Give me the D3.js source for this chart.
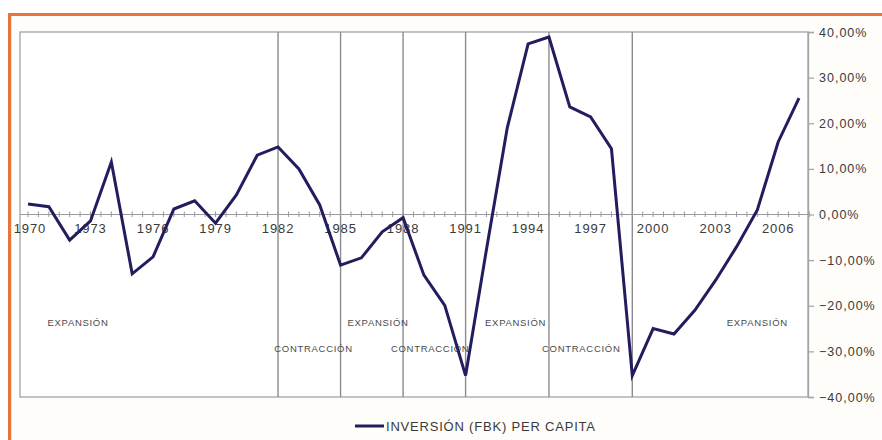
<!DOCTYPE html>
<html>
<head>
<meta charset="utf-8">
<script src="https://cdn.jsdelivr.net/npm/d3@7/dist/d3.min.js"></script>
<style>
  html, body { margin: 0; padding: 0; background: #ffffff; }
  svg { display: block; }
  text { font-family: "Liberation Sans", Arial, sans-serif; }
</style>
</head>
<body>
<svg id="chart" width="882" height="440"></svg>
<script>
// ---- data ----
const years = d3.range(1970, 2008);
const inversionFBK = [
  2.3, 1.7, -5.6, -1.4, 11.5, -13.0, -9.3, 1.2, 3.0, -1.9,
  4.3, 13.0, 14.8, 10.0, 2.1, -11.1, -9.5, -3.8, -0.7, -13.3,
  -19.9, -35.3, -7.7, 19.0, 37.4, 38.9, 23.6, 21.4, 14.4, -35.3,
  -25.0, -26.2, -21.0, -14.4, -7.1, 1.0, 15.9, 25.5
];
const seriesName = "INVERSIÓN (FBK) PER CAPITA";
const xTickLabels = [1970, 1973, 1976, 1979, 1982, 1985, 1988, 1991, 1994, 1997, 2000, 2003, 2006];
const yTicks = [40, 30, 20, 10, 0, -10, -20, -30, -40];
const cycleBreaks = [1982, 1985, 1988, 1991, 1995, 1999];
const phaseLabels = ["EXPANSIÓN", "CONTRACCIÓN", "EXPANSIÓN", "CONTRACCIÓN", "EXPANSIÓN", "CONTRACCIÓN", "EXPANSIÓN"];
const phaseYears  = [1972.4, 1983.7, 1986.8, 1989.3, 1993.4, 1996.55, 2005.0];
const phaseLevels = [-23.8, -29.3, -23.6, -29.3, -23.6, -29.5, -23.8];

// ---- layout ----
const svg = d3.select("#chart");
const plot = { left: 20, top: 32, right: 808, bottom: 397 };
const x = d3.scaleLinear().domain([1970, 2007]).range([28, 799]);
const y = d3.scaleLinear().domain([-40, 40]).range([plot.bottom, plot.top]);
const fmt = v => d3.format(".2f")(v).replace(".", ",") + "%";

// orange frame
svg.append("rect").attr("x", 11).attr("y", 16).attr("width", 871).attr("height", 424)
  .attr("fill", "#fefdfa");
svg.append("line").attr("x1", 8).attr("x2", 882).attr("y1", 14.5).attr("y2", 14.5)
  .attr("stroke", "#e8763c").attr("stroke-width", 3.2);
svg.append("line").attr("x1", 9.6).attr("x2", 9.6).attr("y1", 13).attr("y2", 440)
  .attr("stroke", "#e8763c").attr("stroke-width", 3.2);

// plot area
svg.append("rect").attr("x", plot.left).attr("y", plot.top)
  .attr("width", plot.right - plot.left).attr("height", plot.bottom - plot.top)
  .attr("fill", "#ffffff").attr("stroke", "#a3a3a8").attr("stroke-width", 1.3);

// cycle separators
svg.append("g").selectAll("line").data(cycleBreaks).join("line")
  .attr("x1", d => x(d)).attr("x2", d => x(d))
  .attr("y1", plot.top).attr("y2", plot.bottom)
  .attr("stroke", "#8c8c90").attr("stroke-width", 1.4);

// zero axis with ticks
const y0 = y(0);
svg.append("line").attr("x1", plot.left).attr("x2", plot.right).attr("y1", y0).attr("y2", y0)
  .attr("stroke", "#9a9a9e").attr("stroke-width", 1.2);
const halfSteps = d3.range(1970, 2007.51, 0.5);
svg.append("g").selectAll("line").data(halfSteps).join("line")
  .attr("x1", d => x(d)).attr("x2", d => x(d))
  .attr("y1", y0 - 3).attr("y2", y0 + 2.5)
  .attr("stroke", "#9a9a9e").attr("stroke-width", 1);

// x labels
svg.append("g").selectAll("text").data(xTickLabels).join("text")
  .attr("x", d => x(d) + (d === 1970 ? 2 : 0)).attr("y", y0 + 18)
  .attr("text-anchor", "middle")
  .attr("font-size", 13).attr("letter-spacing", 0.9)
  .attr("fill", "#3a3a3a")
  .text(d => d);

// right axis
const yAxis = d3.axisRight(y).tickValues(yTicks).tickSize(6).tickFormat(fmt);
const ga = svg.append("g").attr("transform", `translate(${plot.right},0)`).call(yAxis);
ga.select(".domain").attr("stroke", "#a3a3a8").attr("stroke-width", 1.3);
ga.selectAll(".tick line").attr("stroke", "#a3a3a8").attr("stroke-width", 1.2);
ga.selectAll(".tick text")
  .attr("x", 11)
  .attr("font-family", "'Liberation Sans', Arial, sans-serif")
  .attr("font-size", 12.5).attr("letter-spacing", 1)
  .attr("fill", "#3a3a3a");

// phase labels
svg.append("g").selectAll("text").data(phaseLabels).join("text")
  .attr("x", (d, i) => x(phaseYears[i]))
  .attr("y", (d, i) => y(phaseLevels[i]))
  .attr("dy", "0.35em")
  .attr("text-anchor", "middle")
  .attr("font-size", 9.5).attr("letter-spacing", 0.7)
  .attr("fill", "#4a4a4a")
  .text(d => d);

// series line
const line = d3.line().x((d, i) => x(years[i])).y(d => y(d));
svg.append("path").datum(inversionFBK)
  .attr("d", line)
  .attr("fill", "none")
  .attr("stroke", "#221e5e")
  .attr("stroke-width", 3)
  .attr("stroke-linejoin", "miter");

// legend
const lg = svg.append("g").attr("transform", "translate(355,426)");
lg.append("line").attr("x1", 0).attr("x2", 29).attr("y1", 0).attr("y2", 0)
  .attr("stroke", "#221e5e").attr("stroke-width", 3);
lg.append("text").attr("x", 31).attr("y", 0).attr("dy", "0.36em")
  .attr("font-size", 13).attr("letter-spacing", 0.8)
  .attr("fill", "#3a3a3a")
  .text(seriesName);
</script>
</body>
</html>
